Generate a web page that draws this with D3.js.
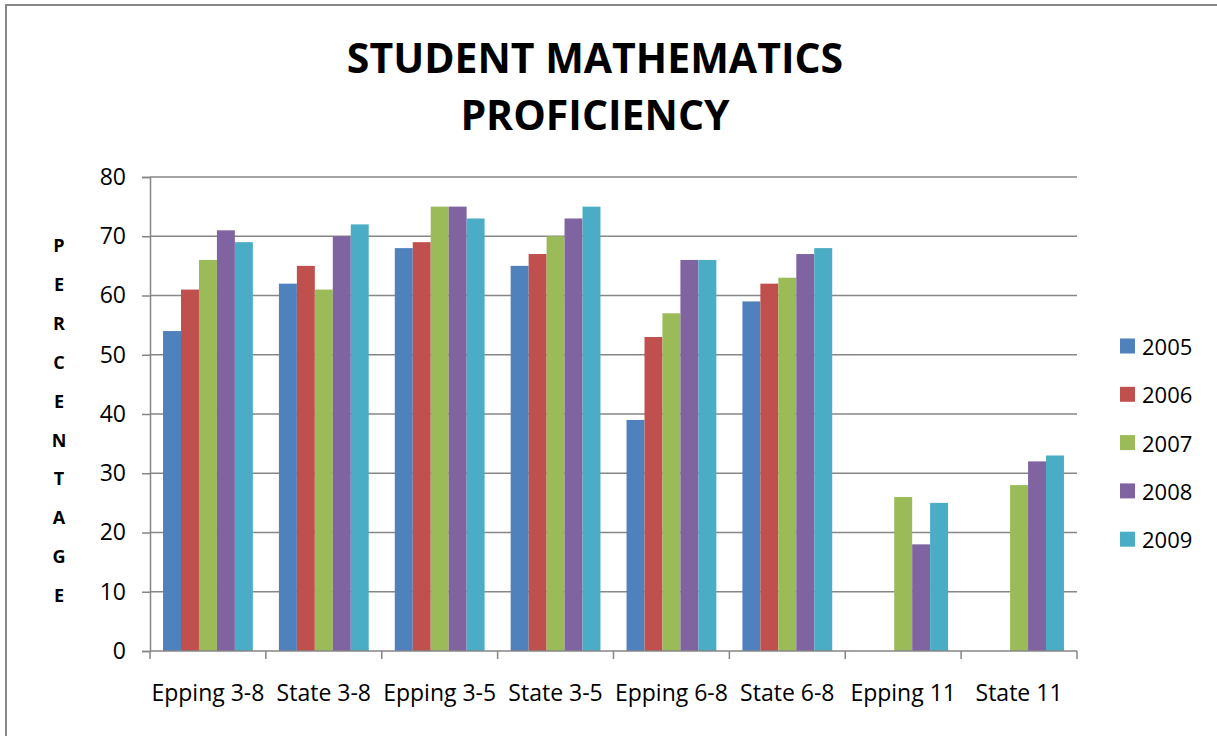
<!DOCTYPE html>
<html>
<head>
<meta charset="utf-8">
<script src="https://cdn.jsdelivr.net/npm/d3@7"></script>
<style>
  body { margin: 0; background: #fff; }
  text { font-family: "Open Sans", "Liberation Sans", sans-serif; fill: #000; }
</style>
</head>
<body>
<div id="chart"></div>
<script>
// chart values
const categories = ["Epping 3-8", "State 3-8", "Epping 3-5", "State 3-5", "Epping 6-8", "State 6-8", "Epping 11", "State 11"];
const years = ["2005", "2006", "2007", "2008", "2009"];
const y2005 = [54, 62, 68, 65, 39, 59, null, null];
const y2006 = [61, 65, 69, 67, 53, 62, null, null];
const y2007 = [66, 61, 75, 70, 57, 63, 26, 28];
const y2008 = [71, 70, 75, 73, 66, 67, 18, 32];
const y2009 = [69, 72, 73, 75, 66, 68, 25, 33];
const yTicks = [0, 10, 20, 30, 40, 50, 60, 70, 80];
const axisTitle = "PERCENTAGE";

const series = [y2005, y2006, y2007, y2008, y2009];
const colors = ["#4F81BD", "#C0504D", "#9BBB59", "#8064A2", "#4BACC6"];

const width = 1217, height = 736;
const margin = {left: 150, right: 140, top: 177, bottom: 85};

const svg = d3.select("#chart").append("svg")
    .attr("width", width)
    .attr("height", height);

// outer frame
svg.append("rect")
    .attr("x", 6).attr("y", 5)
    .attr("width", width + 20).attr("height", height + 20)
    .attr("fill", "none")
    .attr("stroke", "#868686")
    .attr("stroke-width", 2);

const x = d3.scaleBand()
    .domain(categories)
    .range([margin.left, width - margin.right])
    .paddingInner(0.225)
    .paddingOuter(0.1125);

const xg = d3.scaleBand()
    .domain(years)
    .range([0, x.bandwidth()]);

const y = d3.scaleLinear()
    .domain([0, 80])
    .range([height - margin.bottom, margin.top]);

// gridlines
svg.append("g")
    .selectAll("line")
    .data(yTicks.filter(d => d > 0))
    .join("line")
    .attr("x1", margin.left)
    .attr("x2", width - margin.right)
    .attr("y1", d => y(d))
    .attr("y2", d => y(d))
    .attr("stroke", "#868686")
    .attr("stroke-width", 1.3);

// bars
svg.append("g")
    .selectAll("g")
    .data(series)
    .join("g")
    .attr("fill", (d, i) => colors[i])
    .each(function(vals, i) {
        d3.select(this).selectAll("rect")
            .data(vals.map((v, j) => ({cat: categories[j], v})).filter(d => d.v != null))
            .join("rect")
            .attr("x", d => x(d.cat) + xg(years[i]))
            .attr("y", d => y(d.v))
            .attr("width", xg.bandwidth())
            .attr("height", d => y(0) - y(d.v));
    });

// y axis
const yAxis = svg.append("g")
    .attr("transform", `translate(${margin.left},0)`)
    .call(d3.axisLeft(y).tickValues(yTicks).tickSize(8).tickPadding(16));
yAxis.select(".domain").attr("stroke", "#868686").attr("stroke-width", 1.5);
yAxis.selectAll(".tick line").attr("stroke", "#868686").attr("stroke-width", 1.5);
yAxis.selectAll(".tick text").attr("font-size", 23).attr("font-family", "Open Sans").attr("fill", "#000");

// x axis, ticks at band boundaries
const xAxis = svg.append("g")
    .attr("transform", `translate(0,${y(0)})`);
xAxis.append("line")
    .attr("x1", margin.left).attr("x2", width - margin.right)
    .attr("stroke", "#868686").attr("stroke-width", 1.5);
const step = x.step();
const bounds = d3.range(categories.length + 1).map(i => margin.left + i * step);
xAxis.selectAll(".xt")
    .data(bounds)
    .join("line")
    .attr("x1", d => d).attr("x2", d => d)
    .attr("y1", 0).attr("y2", 8)
    .attr("stroke", "#868686").attr("stroke-width", 1.5);
xAxis.selectAll(".xl")
    .data(categories)
    .join("text")
    .attr("x", d => x(d) + x.bandwidth() / 2)
    .attr("y", 50)
    .attr("text-anchor", "middle")
    .attr("font-size", 23)
    .text(d => d);

// title
const title = svg.append("text")
    .attr("x", 595)
    .attr("text-anchor", "middle")
    .attr("font-weight", "bold")
    .attr("font-size", 41);
title.append("tspan").attr("x", 595).attr("y", 73).text("STUDENT MATHEMATICS");
title.append("tspan").attr("x", 595).attr("y", 130).text("PROFICIENCY");

// vertical stacked axis title
svg.append("g")
    .selectAll("text")
    .data(axisTitle.split(""))
    .join("text")
    .attr("x", 59)
    .attr("y", (d, i) => 252 + i * 38.9)
    .attr("text-anchor", "middle")
    .attr("font-weight", "bold")
    .attr("font-size", 18)
    .text(d => d);

// legend
const legend = svg.append("g")
    .selectAll("g")
    .data(years)
    .join("g")
    .attr("transform", (d, i) => `translate(1120,${346 + i * 48.3})`);
legend.append("rect")
    .attr("x", 0).attr("y", -7.5)
    .attr("width", 15).attr("height", 15)
    .attr("fill", (d, i) => colors[i]);
legend.append("text")
    .attr("x", 22)
    .attr("y", 9)
    .attr("font-size", 22)
    .text(d => d);
</script>
</body>
</html>
